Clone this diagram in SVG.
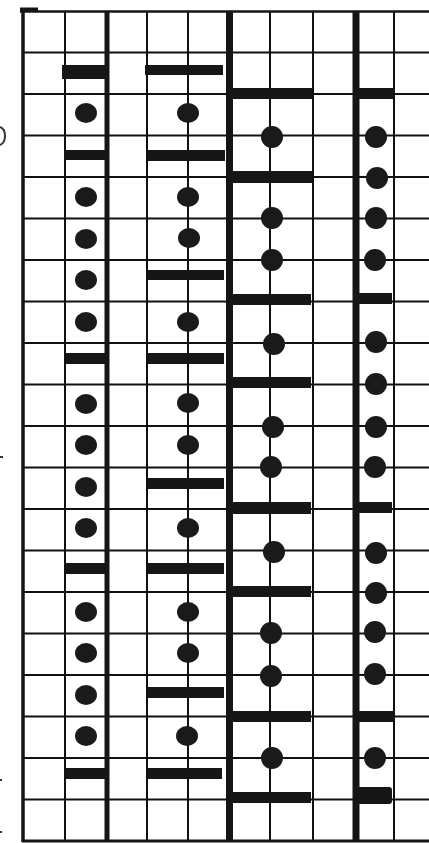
<svg xmlns="http://www.w3.org/2000/svg" width="429" height="843" viewBox="0 0 429 843">
<style>
.g{stroke:#111;stroke-width:2;fill:none}
.tk{stroke:#151515;fill:none}
.d{fill:#1a1a1a}
.b{fill:#161616}
</style>
<rect x="0" y="0" width="429" height="843" fill="#fff"/>
<g id="grid">
<path class="g" d="M23 52.5H429M23 94H429M23 135.5H429M23 177H429M23 218.5H429M23 260H429M23 301.5H429M23 343H429M23 384.5H429M23 426H429M23 467.5H429M23 509H429M23 550.5H429M23 592H429M23 633.5H429M23 675H429M23 716.5H429M23 758H429M23 799.5H429"/>
<path class="g" d="M65 11V841M147 11V841M188 11V841M270 11V841M313 11V841M394 11V841"/>
<path class="tk" stroke-width="2.5" d="M20 11.5H429"/>
<path class="tk" stroke-width="3.5" d="M23 10V842"/>
<path class="tk" stroke-width="3" d="M22 841H429"/>
<path class="tk" stroke-width="4" d="M20 9.5H38"/>
<path class="tk" stroke-width="5" d="M107 11V841"/>
<path class="tk" stroke-width="7" d="M229.5 11V841"/>
<path class="tk" stroke-width="7" d="M356 11V841"/>
</g>
<g id="colA">
<rect class="b" x="62" y="65" width="45" height="14"/>
<rect class="b" x="64" y="150" width="43" height="10"/>
<rect class="b" x="66" y="353" width="41" height="11"/>
<rect class="b" x="66" y="563" width="41" height="11"/>
<rect class="b" x="66" y="768" width="41" height="11"/>
<ellipse class="d" cx="86" cy="113" rx="11" ry="10"/>
<ellipse class="d" cx="86" cy="197" rx="11" ry="10"/>
<ellipse class="d" cx="86" cy="239" rx="11" ry="10"/>
<ellipse class="d" cx="86" cy="280" rx="11" ry="10"/>
<ellipse class="d" cx="86" cy="322" rx="11" ry="10"/>
<ellipse class="d" cx="86" cy="404" rx="11" ry="10"/>
<ellipse class="d" cx="86" cy="445" rx="11" ry="10"/>
<ellipse class="d" cx="86" cy="487" rx="11" ry="10"/>
<ellipse class="d" cx="86" cy="528" rx="11" ry="10"/>
<ellipse class="d" cx="86" cy="612" rx="11" ry="10"/>
<ellipse class="d" cx="86" cy="653" rx="11" ry="10"/>
<ellipse class="d" cx="86" cy="695" rx="11" ry="10"/>
<ellipse class="d" cx="86" cy="736" rx="11" ry="10"/>
</g>
<g id="colB">
<rect class="b" x="145" y="65" width="78" height="10"/>
<rect class="b" x="148" y="150" width="77" height="11"/>
<rect class="b" x="148" y="270" width="76" height="10"/>
<rect class="b" x="148" y="353" width="76" height="11"/>
<rect class="b" x="148" y="478" width="76" height="11"/>
<rect class="b" x="148" y="563" width="76" height="11"/>
<rect class="b" x="148" y="687" width="76" height="11"/>
<rect class="b" x="148" y="768" width="74" height="11"/>
<ellipse class="d" cx="188" cy="113" rx="11" ry="10"/>
<ellipse class="d" cx="188" cy="197" rx="11" ry="10"/>
<ellipse class="d" cx="189" cy="238" rx="11" ry="10"/>
<ellipse class="d" cx="188" cy="322" rx="11" ry="10"/>
<ellipse class="d" cx="188" cy="403" rx="11" ry="10"/>
<ellipse class="d" cx="188" cy="445" rx="11" ry="10"/>
<ellipse class="d" cx="188" cy="528" rx="11" ry="10"/>
<ellipse class="d" cx="188" cy="612" rx="11" ry="10"/>
<ellipse class="d" cx="188" cy="653" rx="11" ry="10"/>
<ellipse class="d" cx="187" cy="736" rx="11" ry="10"/>
</g>
<g id="colC">
<rect class="b" x="229" y="88" width="83" height="11"/>
<rect class="b" x="229" y="171" width="83" height="12"/>
<rect class="b" x="229" y="294" width="82" height="11"/>
<rect class="b" x="229" y="377" width="82" height="11"/>
<rect class="b" x="229" y="502" width="82" height="12"/>
<rect class="b" x="229" y="586" width="82" height="11"/>
<rect class="b" x="229" y="711" width="82" height="11"/>
<rect class="b" x="229" y="792" width="82" height="11"/>
<circle class="d" cx="272" cy="137" r="11"/>
<circle class="d" cx="272" cy="218" r="11"/>
<circle class="d" cx="272" cy="260" r="11"/>
<circle class="d" cx="274" cy="344" r="11"/>
<circle class="d" cx="273" cy="427" r="11"/>
<circle class="d" cx="271" cy="467" r="11"/>
<circle class="d" cx="274" cy="552" r="11"/>
<circle class="d" cx="271" cy="633" r="11"/>
<circle class="d" cx="271" cy="676" r="11"/>
<circle class="d" cx="272" cy="758" r="11"/>
</g>
<g id="colD">
<rect class="b" x="356" y="88" width="37" height="11"/>
<rect class="b" x="356" y="293" width="36" height="11"/>
<rect class="b" x="356" y="502" width="36" height="11"/>
<rect class="b" x="356" y="711" width="38" height="11"/>
<rect class="b" x="356" y="787" width="36" height="17" rx="3"/>
<circle class="d" cx="376" cy="137" r="11"/>
<circle class="d" cx="377" cy="178" r="11"/>
<circle class="d" cx="376" cy="218" r="11"/>
<circle class="d" cx="375" cy="260" r="11"/>
<circle class="d" cx="376" cy="342" r="11"/>
<circle class="d" cx="376" cy="384" r="11"/>
<circle class="d" cx="376" cy="427" r="11"/>
<circle class="d" cx="375" cy="467" r="11"/>
<circle class="d" cx="376" cy="553" r="11"/>
<circle class="d" cx="376" cy="593" r="11"/>
<circle class="d" cx="375" cy="632" r="11"/>
<circle class="d" cx="375" cy="674" r="11"/>
<circle class="d" cx="375" cy="758" r="11"/>
</g>
<g id="marks" fill="none" stroke="#333" stroke-width="2">
<path d="M0 127Q5 129 5 136Q5 143 0 145"/>
<path d="M0 457H3"/>
<path d="M0 780H2"/>
<path d="M0 832H2"/>
</g>
</svg>
